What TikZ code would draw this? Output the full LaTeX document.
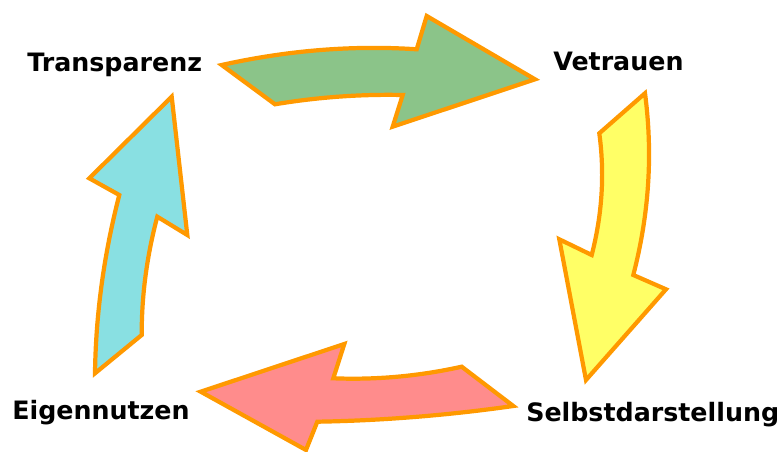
\documentclass[tikz,border=0pt]{standalone}
\usepackage{fontspec}
\setmainfont{DejaVu Sans}
\usepackage{tikz}
\usetikzlibrary{positioning}
\definecolor{cycorange}{RGB}{255,153,0}
\definecolor{cycgreen}{RGB}{139,196,137}
\definecolor{cycyellow}{RGB}{255,255,102}
\definecolor{cycpink}{RGB}{255,140,140}
\definecolor{cyccyan}{RGB}{137,224,226}

\begin{document}
\begin{tikzpicture}[
      x=0.025cm, y=-0.025cm,
      cycarrow/.style={draw=cycorange, line width=3pt, line join=miter},
      cyclabel/.style={anchor=base west, inner sep=0pt, font=\bfseries\fontsize{18}{20}\selectfont}
    ]
      \useasboundingbox (0,0) rectangle (784,452);

      % labels
      \node[cyclabel] (transparenz) at (27,72) {Transparenz};
      \node[cyclabel] (vetrauen) at (553,71) {Vetrauen};
      \node[cyclabel] (selbst) at (526,421) {Selbstdarstellung};
      \node[cyclabel] (eigen) at (12,420) {Eigennutzen};

      % Transparenz -> Vetrauen
      \filldraw[cycarrow, fill=cycgreen] (221.7,65)
        .. controls (287.9,50.3) and (352.9,45.1) .. (416.7,49.3)
        -- (426.7,16) -- (535,79.3) -- (392.7,126.7) -- (402.7,95)
        .. controls (360.1,94.1) and (317.5,97.2) .. (275,104.3) -- cycle;

      % Vetrauen -> Selbstdarstellung
      \filldraw[cycarrow, fill=cycyellow] (645,93.3) -- (599.3,133.3)
        .. controls (604.8,173.8) and (602.2,214.3) .. (591.7,255)
        -- (559.3,239.3) -- (586,380) -- (666,289.3) -- (633.3,275)
        .. controls (649.1,214.3) and (653,153.8) .. cycle;

      % Selbstdarstellung -> Eigennutzen
      \filldraw[cycarrow, fill=cycpink] (513.3,406) -- (461.7,366.7)
        .. controls (418.9,376.2) and (376.1,380.0) .. (333.3,378.3)
        -- (344.3,344) -- (200.7,391.7) -- (306,450) -- (317.3,421.7)
        .. controls (382.6,420.6) and (448,415.3) .. cycle;

      % Eigennutzen -> Transparenz
      \filldraw[cycarrow, fill=cyccyan] (95,373.3) -- (141.7,335)
        .. controls (141.6,295.6) and (146.8,256.2) .. (157.3,216.7)
        -- (187.3,235) -- (171.7,96.7) -- (89.3,178.3) -- (119.3,195)
        .. controls (103.9,254.5) and (95.8,313.9) .. cycle;
    \end{tikzpicture}
\end{document}
